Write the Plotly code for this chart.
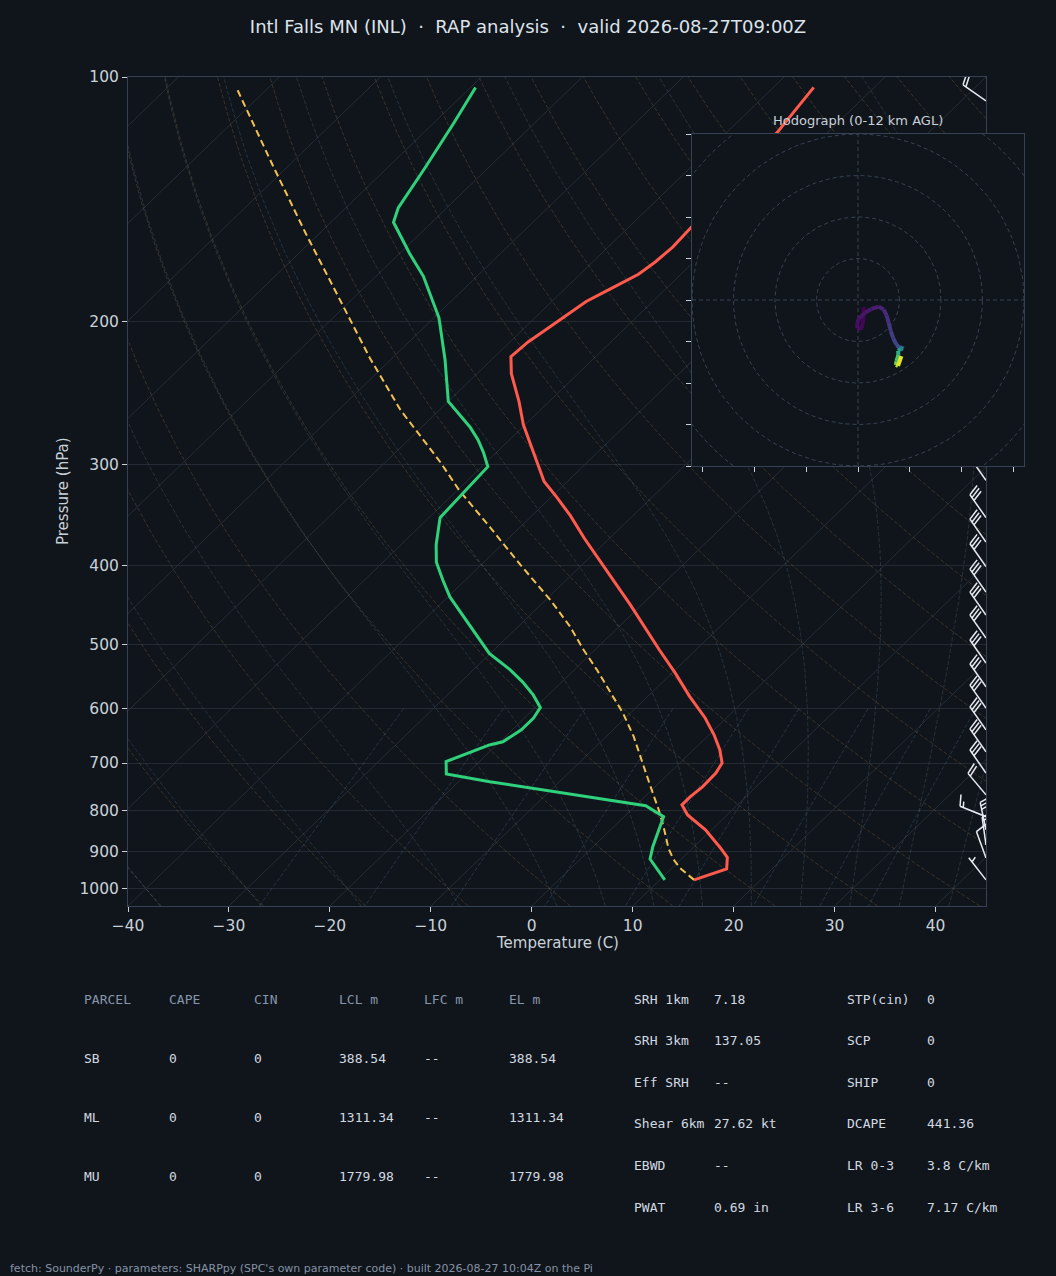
import numpy as np
import plotly.graph_objects as go
from plotly.colors import sample_colorscale

### INIT ###

W, H = 1056, 1276
BG = "#10151c"
FG = "#c9d1d9"
SPINE = "#364252"
FONT = "DejaVu Sans"
MONO = "DejaVu Sans Mono"

# sounding (hPa / degC)
temp_p = [975, 945, 915, 890, 846, 811, 788, 770, 749, 720, 700, 674, 646, 616, 579, 542, 508, 476, 447,
          419, 394, 370, 347, 329, 315, 300, 284, 268, 251, 232, 221, 212, 205, 197, 189, 183, 175, 169,
          162, 153, 117, 103]
temp_c = [13.4, 15.5, 14.4, 12.7, 9.4, 6.1, 4.5, 4.5, 4.7, 4.6, 4.2, 2.6, 0.5, -2.1, -5.9, -9.7, -13.6,
          -17.4, -21.1, -25.0, -28.7, -32.5, -36.2, -39.5, -42.3, -44.7, -47.4, -50.2, -53.0, -56.6, -58.4,
          -58.2, -57.7, -57.1, -56.6, -55.6, -54.2, -53.8, -53.6, -53.8, -55.0, -56.0]

dewp_p = [975, 919, 887, 830, 815, 790, 738, 722, 697, 665, 659, 637, 616, 598, 577, 556, 537, 513, 494,
          466, 437, 416, 396, 377, 349, 302, 290, 280, 270, 251, 223, 198, 176, 165, 151, 145, 130, 114, 103]
dewp_c = [10.5, 6.9, 5.9, 4.3, 3.9, 1.0, -16.9, -22.0, -23.3, -20.7, -19.7, -19.1, -19.1, -19.5, -21.5,
          -23.9, -26.4, -30.1, -32.4, -35.9, -39.8, -42.3, -44.7, -46.5, -48.9, -49.4, -51.3, -53.1, -55.2,
          -60.0, -64.6, -69.5, -75.3, -79.0, -83.8, -84.8, -86.2, -88.0, -89.5]

# surface-based parcel path
parcel_p = [975, 943, 919, 891, 838, 799, 748, 694, 649, 608, 577, 537, 508, 475, 441, 399, 359, 323, 298,
            257, 222, 187, 156, 128, 103]
parcel_c = [13.4, 10.8, 9.2, 7.6, 4.9, 2.7, -0.5, -4.1, -7.3, -10.7, -13.7, -17.8, -21.1, -24.9, -29.5,
            -36.1, -42.9, -49.8, -54.6, -63.9, -72.2, -81.5, -91.3, -101.8, -113.2]

# wind barbs (hPa, direction deg, speed kt)
barb_p = [107, 314, 349, 374, 401, 431, 460, 491, 527, 564, 599, 637, 678, 720, 766, 815, 846, 883, 916, 975]
barb_dir = [305, 325, 325, 325, 325, 325, 325, 325, 325, 325, 325, 325, 325, 325, 320, 292, 348, 352, 340, 322]
barb_spd = [20, 30, 30, 30, 30, 30, 30, 30, 30, 30, 30, 30, 30, 30, 20, 15, 25, 15, 10, 5]

# hodograph (km AGL, kt)
hodo_z = [0.0, 0.1, 0.2, 0.3, 0.4, 0.5, 0.6, 0.75, 0.9, 1.1, 1.3, 1.5, 1.75, 2.0, 2.3, 2.6, 3.0, 4.0, 5.0,
          6.0, 7.0, 8.0, 9.0, 10.0, 11.0, 12.0]
hodo_u = [2.7, 2.7, 2.2, 1.2, -0.3, -0.4, 0.5, 3.5, 6.5, 10.0, 12.4, 13.8, 14.8, 15.8, 17.0, 18.5, 19.8,
          21.3, 21.8, 20.5, 19.3, 19.5, 18.5, 18.3, 19.3, 20.9]
hodo_v = [-3.5, -7.5, -12.0, -14.3, -13.5, -11.0, -9.0, -6.0, -4.3, -3.2, -4.6, -7.5, -11.0, -15.0, -18.5,
          -21.5, -22.8, -23.0, -23.4, -23.6, -24.5, -26.5, -29.5, -31.3, -31.8, -27.0]

# parameter tables
parcel_header = ["PARCEL", "CAPE", "CIN", "LCL m", "LFC m", "EL m"]
parcel_rows = [["SB", "0", "0", "388.54", "--", "388.54"],
               ["ML", "0", "0", "1311.34", "--", "1311.34"],
               ["MU", "0", "0", "1779.98", "--", "1779.98"]]
kin_labels = ["SRH 1km", "SRH 3km", "Eff SRH", "Shear 6km", "EBWD", "PWAT"]
kin_values = ["7.18", "137.05", "--", "27.62 kt", "--", "0.69 in"]
idx_labels = ["STP(cin)", "SCP", "SHIP", "DCAPE", "LR 0-3", "LR 3-6"]
idx_values = ["0", "0", "0", "441.36", "3.8 C/km", "7.17 C/km"]

title = "Intl Falls MN (INL)\u00a0\u00a0·\u00a0\u00a0RAP analysis\u00a0\u00a0·\u00a0\u00a0valid 2026-08-27T09:00Z"
footer = "fetch: SounderPy · parameters: SHARPpy (SPC's own parameter code) · built 2026-08-27 10:04Z on the Pi"

### GEOMETRY ###

P_BOT, P_TOP = 1050.0, 100.0
T_MIN, T_MAX = -40.0, 45.0
AX_L, AX_R, AX_T, AX_B = 128, 986, 77, 906      # skew-T plot area, px
HD_L, HD_R, HD_T, HD_B = 692, 1024, 134, 466    # hodograph inset, px
LOGSPAN = np.log10(P_BOT) - np.log10(P_TOP)
DEG_PER_PX = (T_MAX - T_MIN) / (AX_R - AX_L)
DEC_PER_PX = LOGSPAN / (AX_B - AX_T)


def skew(t, p):
    # 45 deg skew in axes coords: one axes width per axes height
    t = np.asarray(t, float)
    p = np.asarray(p, float)
    return t + (T_MAX - T_MIN) * (np.log10(P_BOT) - np.log10(p)) / LOGSPAN


def lines_trace(curves, color, dash, width=1):
    xs, ys = [], []
    for t, p in curves:
        xs += list(skew(t, p)) + [None]
        ys += list(p) + [None]
    return go.Scatter(x=xs, y=ys, mode="lines", line=dict(color=color, width=width, dash=dash),
                      hoverinfo="skip", showlegend=False)


def moist_curve(t0):
    pg = np.arange(P_BOT, P_TOP - 1, -5.0)
    i0 = int(np.where(pg == 1000.0)[0][0])
    T = np.empty_like(pg)
    T[i0] = t0 + 273.15

    def f(p, tk):
        es = 6.112 * np.exp(17.67 * (tk - 273.15) / (tk - 29.65))
        rs = 0.622 * es / (p - es)
        return (287.04 * tk + 2.501e6 * rs) / (1005.7 + 2.501e6 ** 2 * rs * 0.622 / (287.04 * tk * tk)) / p

    def step(p, tk, dp):
        k1 = f(p, tk)
        k2 = f(p + dp / 2, tk + dp / 2 * k1)
        k3 = f(p + dp / 2, tk + dp / 2 * k2)
        k4 = f(p + dp, tk + dp * k3)
        return tk + dp / 6 * (k1 + 2 * k2 + 2 * k3 + k4)

    for i in range(i0, len(pg) - 1):
        T[i + 1] = step(pg[i], T[i], pg[i + 1] - pg[i])
    for i in range(i0, 0, -1):
        T[i - 1] = step(pg[i], T[i], pg[i - 1] - pg[i])
    return T - 273.15, pg


def barb_lines(p, wdir, spd, L=28.0):
    # matplotlib-style barb built in px, then mapped onto the skew-T axes
    rad = np.deg2rad(wdir)
    u, v = -spd * np.sin(rad), -spd * np.cos(rad)
    rot = np.arctan2(v, u) + np.pi / 2
    fh, fw, sp = 0.4 * L, 0.25 * L, 0.125 * L
    spd5 = int(5 * round(spd / 5))
    nbarbs, half = (spd5 % 50) // 10, (spd5 % 10) >= 5
    segs = [[(0, 0), (0, L)]]
    off = L
    for i in range(nbarbs):
        segs.append([(0, off), (fh, off + fw / 2)])
        off -= sp
    if half:
        if off == L:
            off -= 1.5 * sp
        segs.append([(0, off), (fh / 2, off + fw / 4)])
    xs, ys = [], []
    c, s = np.cos(rot), np.sin(rot)
    for seg in segs:
        for (a, b) in seg:
            dx, dy = a * c - b * s, a * s + b * c
            xs.append(T_MAX + dx * DEG_PER_PX)
            ys.append(10 ** (np.log10(p) - dy * DEC_PER_PX))
        xs.append(None)
        ys.append(None)
    return xs, ys


### FIGURE ###

fig = go.Figure()
pl = np.geomspace(P_BOT, P_TOP, 120)

# isotherms
fig.add_trace(lines_trace([(np.full_like(pl, t0), pl) for t0 in range(-130, 50, 10)], "#262d36", "solid"))
# dry adiabats
fig.add_trace(lines_trace([((t0 + 273.15) * (pl / 1000.0) ** 0.2857 - 273.15, pl) for t0 in range(-40, 250, 10)],
                          "rgba(170,125,70,0.28)", "4px,2px"))
# moist adiabats
moist_t0 = list(range(-40, 0, 10)) + list(range(0, 45, 5))
fig.add_trace(lines_trace([moist_curve(t0) for t0 in moist_t0], "rgba(110,140,160,0.24)", "4px,2px"))
# mixing ratio lines
pm = np.linspace(600, P_BOT, 40)
mix = []
for w in [0.0004, 0.001, 0.002, 0.004, 0.007, 0.01, 0.016, 0.024, 0.032]:
    lg = np.log(pm * w / (0.622 + w) / 6.112)
    mix.append((243.5 * lg / (17.67 - lg), pm))
fig.add_trace(lines_trace(mix, "rgba(90,130,170,0.28)", "4px,2px"))

# profiles
fig.add_trace(go.Scatter(x=skew(parcel_c, parcel_p), y=parcel_p, mode="lines",
                         line=dict(color="#f2c14e", width=2, dash="7px,4px"), hoverinfo="skip"))
fig.add_trace(go.Scatter(x=skew(temp_c, temp_p), y=temp_p, mode="lines",
                         line=dict(color="#ff5a4c", width=3), hoverinfo="skip"))
fig.add_trace(go.Scatter(x=skew(dewp_c, dewp_p), y=dewp_p, mode="lines",
                         line=dict(color="#2fd27a", width=3), hoverinfo="skip"))

# wind barbs along the right edge
bx, by = [], []
for p, d, s in zip(barb_p, barb_dir, barb_spd):
    xs, ys = barb_lines(p, d, s)
    bx += xs
    by += ys
fig.add_trace(go.Scatter(x=bx, y=by, mode="lines", line=dict(color="#e8ecf2", width=1.5),
                         cliponaxis=False, hoverinfo="skip"))

# hodograph rings + crosshair
ang = np.linspace(0, 2 * np.pi, 181)
rx, ry = [], []
for r in [20, 40, 60, 80, 100]:
    rx += list(r * np.cos(ang)) + [None]
    ry += list(r * np.sin(ang)) + [None]
rx += [-80, 80, None, 0, 0]
ry += [0, 0, None, -80, 80]
fig.add_trace(go.Scatter(x=rx, y=ry, mode="lines", line=dict(color="#364252", width=1, dash="4px,3px"),
                         xaxis="x2", yaxis="y2", hoverinfo="skip"))
# hodograph trace coloured by height (viridis 0-12 km)
cols = sample_colorscale("Viridis", [(hodo_z[i] + hodo_z[i + 1]) / 24.0 for i in range(len(hodo_z) - 1)])
for i in range(len(hodo_z) - 1):
    fig.add_trace(go.Scatter(x=hodo_u[i:i + 2], y=hodo_v[i:i + 2], mode="lines",
                             line=dict(color=cols[i], width=4), xaxis="x2", yaxis="y2", hoverinfo="skip"))

# text
ann = []


def txt(x, y, s, size=13, color=FG, family=MONO, **kw):
    ann.append(dict(x=x / W, y=1 - y / H, xref="paper", yref="paper", text=s, showarrow=False,
                    xanchor=kw.pop("xanchor", "left"), yanchor="middle",
                    font=dict(family=family, size=size, color=color), **kw))


txt(63, 491, "Pressure (hPa)", size=15, family=FONT, xanchor="center", textangle=-90)
txt(557, 943, "Temperature (C)", size=15, family=FONT, xanchor="center")
txt(858, 120, "Hodograph (0-12 km AGL)", size=13, family=FONT, xanchor="center")

col_x = [82, 167, 252, 337, 422, 507]
row_y = [999, 1058, 1117, 1176]
for cx, h in zip(col_x, parcel_header):
    txt(cx, row_y[0], h, color="#8796aa")
for ry_, row in zip(row_y[1:], parcel_rows):
    for cx, val in zip(col_x, row):
        txt(cx, ry_, val, color="#d3d9e0")

for i in range(len(kin_labels)):
    yy = 999 + i * 41.6
    txt(632, yy, kin_labels[i], color="#d3d9e0")
    txt(712, yy, kin_values[i], color="#d3d9e0")
    txt(845, yy, idx_labels[i], color="#d3d9e0")
    txt(925, yy, idx_values[i], color="#d3d9e0")

txt(8, 1268, footer, size=11, family=FONT, color="#8592a3")

fig.update_layout(
    width=W, height=H, autosize=False,
    margin=dict(l=0, r=0, t=0, b=0),
    paper_bgcolor=BG, plot_bgcolor=BG,
    showlegend=False, hovermode=False,
    font=dict(family=FONT, color=FG, size=14),
    title=dict(text=title, x=0.5, xanchor="center", y=1 - 27 / H, yanchor="middle",
               font=dict(family=FONT, size=18, color="#dde3ea")),
    annotations=ann,
    xaxis=dict(domain=[AX_L / W, AX_R / W], range=[T_MIN, T_MAX], tickmode="array",
               tickvals=list(range(-40, 41, 10)), ticks="outside", ticklen=5, tickcolor=FG,
               tickfont=dict(size=15.5, color=FG), showgrid=False, zeroline=False,
               showline=True, linecolor=SPINE, mirror=True, anchor="y", automargin=False),
    yaxis=dict(domain=[1 - AX_B / H, 1 - AX_T / H], type="log",
               range=[np.log10(P_BOT), np.log10(P_TOP)], tickmode="array",
               tickvals=[100, 200, 300, 400, 500, 600, 700, 800, 900, 1000],
               ticktext=["100", "200", "300", "400", "500", "600", "700", "800", "900", "1000"],
               ticks="outside", ticklen=5, tickcolor=FG, tickfont=dict(size=15.5, color=FG),
               showgrid=True, gridcolor="#232a33", zeroline=False,
               showline=True, linecolor=SPINE, mirror=True, anchor="x", automargin=False),
    xaxis2=dict(domain=[HD_L / W, HD_R / W], range=[-80, 80], anchor="y2", tickmode="array",
                tickvals=[-75, -50, -25, 0, 25, 50, 75], showticklabels=False, ticks="outside",
                ticklen=5, tickcolor=FG, showgrid=False, zeroline=False,
                showline=True, linecolor=SPINE, mirror=True, automargin=False),
    yaxis2=dict(domain=[1 - HD_B / H, 1 - HD_T / H], range=[-80, 80], anchor="x2", tickmode="array",
                tickvals=list(range(-80, 81, 20)), showticklabels=False, ticks="outside",
                ticklen=5, tickcolor=FG, showgrid=False, zeroline=False,
                showline=True, linecolor=SPINE, mirror=True, automargin=False),
)

# page has no body margin so the figure fills the window
fig.write_html("out.html", config={"displayModeBar": False},
               post_script="document.body.style.margin='0';document.body.style.background='%s';" % BG)
